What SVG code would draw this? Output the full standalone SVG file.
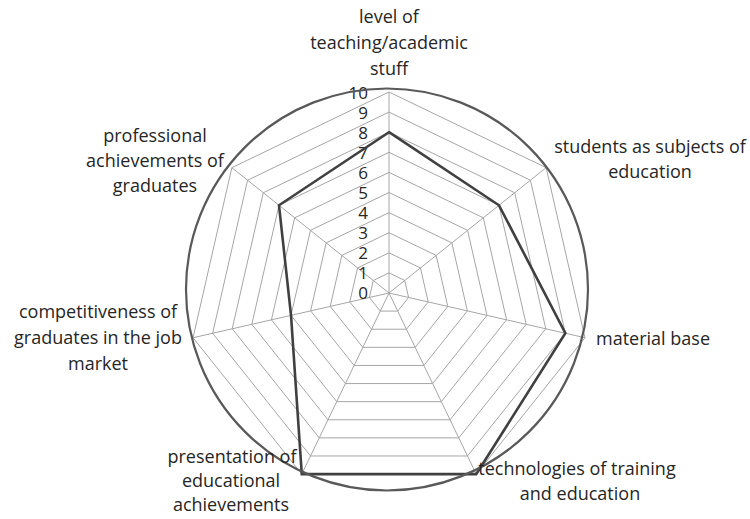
<svg xmlns="http://www.w3.org/2000/svg" xmlns:xlink="http://www.w3.org/1999/xlink" width="750" height="519" viewBox="0 0 750 519">
<style>
.grid{fill:none;stroke:#a6a6a6;stroke-width:1;vector-effect:non-scaling-stroke}
.spoke{stroke:#a6a6a6;stroke-width:1}
.data{fill:none;stroke:#404040;stroke-width:2.6;stroke-linejoin:miter}
.ring{fill:none;stroke:#595959;stroke-width:2.2}
.lbl{font-family:"Open Sans","Liberation Sans",sans-serif;font-size:18px;fill:#262626;text-anchor:middle}
.tick{font-family:"Open Sans","Liberation Sans",sans-serif;font-size:17px;fill:#262626;text-anchor:end}
</style>
<defs>
<polygon id="hep" class="grid" points="0,-100 78.183,-62.349 97.493,22.252 43.388,90.097 -43.388,90.097 -97.493,22.252 -78.183,-62.349"/>
</defs>
<rect width="750" height="519" fill="#ffffff"/>
<g id="grid" transform="translate(389,293)">
<use xlink:href="#hep" transform="scale(0.201)"/>
<use xlink:href="#hep" transform="scale(0.402)"/>
<use xlink:href="#hep" transform="scale(0.603)"/>
<use xlink:href="#hep" transform="scale(0.804)"/>
<use xlink:href="#hep" transform="scale(1.005)"/>
<use xlink:href="#hep" transform="scale(1.206)"/>
<use xlink:href="#hep" transform="scale(1.407)"/>
<use xlink:href="#hep" transform="scale(1.608)"/>
<use xlink:href="#hep" transform="scale(1.809)"/>
<use xlink:href="#hep" transform="scale(2.01)"/>
<line class="spoke" x1="0" y1="0" x2="0" y2="-201"/>
<line class="spoke" x1="0" y1="0" x2="157.15" y2="-125.32"/>
<line class="spoke" x1="0" y1="0" x2="195.96" y2="44.73"/>
<line class="spoke" x1="0" y1="0" x2="87.21" y2="181.09"/>
<line class="spoke" x1="0" y1="0" x2="-87.21" y2="181.09"/>
<line class="spoke" x1="0" y1="0" x2="-195.96" y2="44.73"/>
<line class="spoke" x1="0" y1="0" x2="-157.15" y2="-125.32"/>
</g>
<g id="ticks">
<text class="tick" x="368" y="299">0</text>
<text class="tick" x="368" y="279">1</text>
<text class="tick" x="368" y="259">2</text>
<text class="tick" x="368" y="239">3</text>
<text class="tick" x="368" y="219">4</text>
<text class="tick" x="368" y="199">5</text>
<text class="tick" x="368" y="179">6</text>
<text class="tick" x="368" y="159">7</text>
<text class="tick" x="368" y="139">8</text>
<text class="tick" x="368" y="119">9</text>
<text class="tick" x="368" y="99">10</text>
</g>
<g id="series" transform="translate(389,293)">
<polygon class="data" points="0,-160.8 110,-87.72 176.36,40.25 87.21,181.09 -87.21,181.09 -97.98,22.36 -110,-87.72"/>
</g>
<circle id="outline" class="ring" cx="387" cy="289.5" r="201"/>
<g id="labels">
<g id="n-level"><text class="lbl" x="389" y="23">level of</text><text class="lbl" x="389" y="49">teaching/academic</text><text class="lbl" x="389" y="75">stuff</text></g>
<g id="n-students"><text class="lbl" x="650" y="153">students as subjects of</text><text class="lbl" x="650" y="178">education</text></g>
<g id="n-material"><text class="lbl" x="653" y="345">material base</text></g>
<g id="n-tech"><text class="lbl" x="577" y="475">technologies of training</text><text class="lbl" x="580" y="500">and education</text></g>
<g id="n-presentation"><text class="lbl" x="232" y="463">presentation of</text><text class="lbl" x="231" y="487">educational</text><text class="lbl" x="231" y="511">achievements</text></g>
<g id="n-competitiveness"><text class="lbl" x="98" y="318">competitiveness of</text><text class="lbl" x="98" y="344">graduates in the job</text><text class="lbl" x="98" y="370">market</text></g>
<g id="n-professional"><text class="lbl" x="155" y="142">professional</text><text class="lbl" x="155" y="167">achievements of</text><text class="lbl" x="155" y="192">graduates</text></g>
</g>
</svg>
